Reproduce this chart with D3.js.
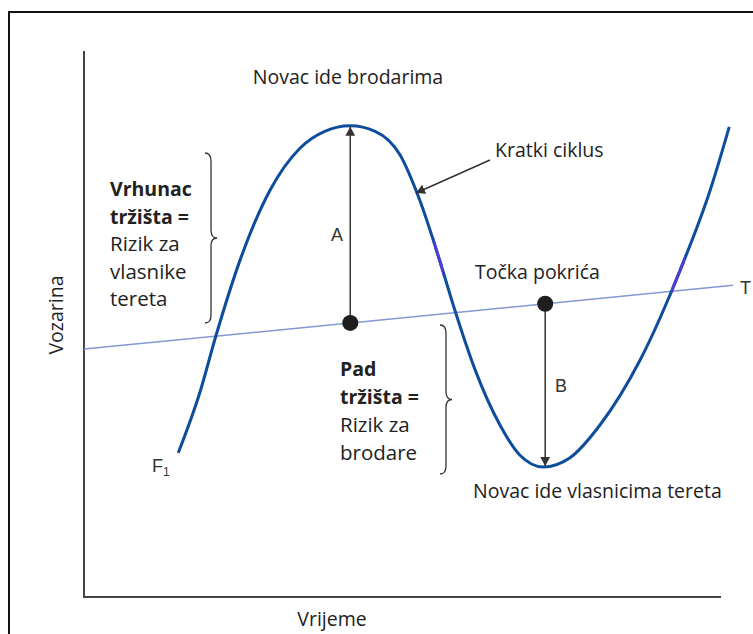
<!DOCTYPE html>
<html>
<head>
<meta charset="utf-8">
<script src="https://cdn.jsdelivr.net/npm/d3@7"></script>
<style>
  body { margin: 0; background: #fff; }
  svg text { font-family: "Open Sans", "Noto Sans", sans-serif; fill: #222; }
  svg text.lbl { font-family: "Liberation Sans", Arial, sans-serif; fill: #333; }
</style>
</head>
<body>
<div id="chart"></div>
<script>
// freight rate cycle, in arbitrary units (time 0..100, rate 0..100)
const cycleTime = [14.8, 18.2, 20.7, 24.5, 29.2, 33.9, 37.8, 41.8, 45.7, 49.6, 52.7, 55.9, 58.2, 61.4, 65.3, 68.4, 72.1, 76.3, 81.0, 87.3, 93.6, 98.3, 101.3];
const cycleRate = [26.4, 37.5, 47.8, 61.7, 74.5, 82.2, 85.3, 86.3, 85.3, 81.0, 72.7, 61.4, 52.6, 41.6, 31.5, 26.0, 23.8, 25.5, 31.5, 43.4, 59.9, 74.5, 86.1];
const trendTime = [0, 101.9];
const trendRate = [45.4, 57.1];
const peakTime = 41.8, peakRate = 86.3;
const troughTime = 72.4, troughRate = 23.8;

const width = 753, height = 634;
const svg = d3.select('#chart').append('svg')
  .attr('width', width).attr('height', height);

const x = d3.scaleLinear().domain([0, 100]).range([84, 721]);
const y = d3.scaleLinear().domain([0, 100]).range([597, 51]);
const trendAt = d3.scaleLinear().domain(trendTime).range(trendRate);

// outer frame
svg.append('rect')
  .attr('x', 9).attr('y', 12).attr('width', 800).attr('height', 700)
  .attr('fill', 'none').attr('stroke', '#111').attr('stroke-width', 2);

const defs = svg.append('defs');
defs.append('marker')
  .attr('id', 'head')
  .attr('viewBox', '0 0 10 10')
  .attr('refX', 10).attr('refY', 5)
  .attr('markerWidth', 9).attr('markerHeight', 14)
  .attr('markerUnits', 'userSpaceOnUse')
  .attr('orient', 'auto')
  .attr('preserveAspectRatio', 'none')
  .append('path').attr('d', 'M0,1.5L10,5L0,8.5z').attr('fill', '#333');

// purple-ish patches on the curve
[[434, 443], [671, 685]].forEach((r, i) => {
  defs.append('clipPath').attr('id', 'cp' + i)
    .append('rect').attr('x', r[0]).attr('y', 0)
    .attr('width', r[1] - r[0]).attr('height', height);
});

// axes (no ticks)
svg.append('path')
  .attr('d', d3.line()([[x(0), y(100)], [x(0), y(0)], [x(100), y(0)]]))
  .attr('fill', 'none').attr('stroke', '#444').attr('stroke-width', 2);

// trend line
svg.append('line')
  .attr('x1', x(trendTime[0])).attr('y1', y(trendRate[0]))
  .attr('x2', x(trendTime[1])).attr('y2', y(trendRate[1]))
  .attr('stroke', '#8397d3').attr('stroke-width', 1.5);

// cycle curve
const pts = cycleTime.map((t, i) => [t, cycleRate[i]]);
const line = d3.line().x(d => x(d[0])).y(d => y(d[1])).curve(d3.curveMonotoneX);
svg.append('path')
  .attr('d', line(pts))
  .attr('fill', 'none').attr('stroke', '#0e4d9b').attr('stroke-width', 3);
[0, 1].forEach(i => {
  svg.append('path')
    .attr('d', line(pts))
    .attr('clip-path', `url(#cp${i})`)
    .attr('fill', 'none').attr('stroke', '#4a3fd2').attr('stroke-width', 3);
});

// arrows A and B
svg.append('line')
  .attr('x1', x(peakTime)).attr('y1', y(trendAt(peakTime)))
  .attr('x2', x(peakTime)).attr('y2', y(peakRate) + 1)
  .attr('stroke', '#333').attr('stroke-width', 1.5)
  .attr('marker-end', 'url(#head)');
svg.append('line')
  .attr('x1', x(troughTime)).attr('y1', y(trendAt(troughTime)))
  .attr('x2', x(troughTime)).attr('y2', y(troughRate) - 1)
  .attr('stroke', '#333').attr('stroke-width', 1.5)
  .attr('marker-end', 'url(#head)');

svg.selectAll('circle.pt')
  .data([peakTime, troughTime])
  .enter().append('circle')
  .attr('class', 'pt')
  .attr('cx', d => x(d)).attr('cy', d => y(trendAt(d)))
  .attr('r', 8).attr('fill', '#1e1e1e');

// Kratki ciklus pointer
svg.append('line')
  .attr('x1', 490).attr('y1', 160).attr('x2', 416).attr('y2', 193)
  .attr('stroke', '#333').attr('stroke-width', 1.5)
  .attr('marker-end', 'url(#head)');

// braces
function brace(x0, top, bottom) {
  const mid = (top + bottom) / 2;
  return `M${x0},${top} Q${x0 + 6},${top} ${x0 + 6},${top + 8}` +
    ` L${x0 + 6},${mid - 8} Q${x0 + 6},${mid} ${x0 + 12},${mid}` +
    ` Q${x0 + 6},${mid} ${x0 + 6},${mid + 8}` +
    ` L${x0 + 6},${bottom - 8} Q${x0 + 6},${bottom} ${x0},${bottom}`;
}
svg.append('path').attr('d', brace(205, 153, 323))
  .attr('fill', 'none').attr('stroke', '#333').attr('stroke-width', 1.3);
svg.append('path').attr('d', brace(440, 325, 474))
  .attr('fill', 'none').attr('stroke', '#333').attr('stroke-width', 1.3);

// texts
function txt(str, tx, ty, opts = {}) {
  return svg.append('text')
    .attr('x', tx).attr('y', ty)
    .attr('font-size', opts.size || 19.5)
    .attr('font-weight', opts.bold ? 'bold' : null)
    .attr('text-anchor', opts.anchor || 'start')
    .attr('class', opts.cls || null)
    .text(str);
}

txt('Novac ide brodarima', 348, 84, { anchor: 'middle' });
txt('Kratki ciklus', 495, 157);
txt('Točka pokrića', 475, 279);
txt('Novac ide vlasnicima tereta', 473, 498);

const leftLines = [['Vrhunac', true], ['tržišta =', true], ['Rizik za', false], ['vlasnike', false], ['tereta', false]];
leftLines.forEach((l, i) => txt(l[0], 110, 196 + i * 27.5, { bold: l[1], size: l[1] ? 19.5 : 20.5 }));
const midLines = [['Pad', true], ['tržišta =', true], ['Rizik za', false], ['brodare', false]];
midLines.forEach((l, i) => txt(l[0], 340, 376 + i * 28, { bold: l[1], size: l[1] ? 19.5 : 20.5 }));

txt('A', 331, 241, { cls: 'lbl', size: 18 });
txt('B', 555, 392, { cls: 'lbl', size: 18 });
txt('T', 740, 294, { cls: 'lbl', size: 18 });
const f1 = txt('F', 152, 472, { cls: 'lbl', size: 18 });
f1.append('tspan').attr('font-size', 12).attr('dy', 4).text('1');

txt('Vrijeme', 332, 626, { anchor: 'middle' });
svg.append('text')
  .attr('transform', 'translate(63,315) rotate(-90)')
  .attr('text-anchor', 'middle').attr('font-size', 19.5)
  .text('Vozarina');
</script>
</body>
</html>
